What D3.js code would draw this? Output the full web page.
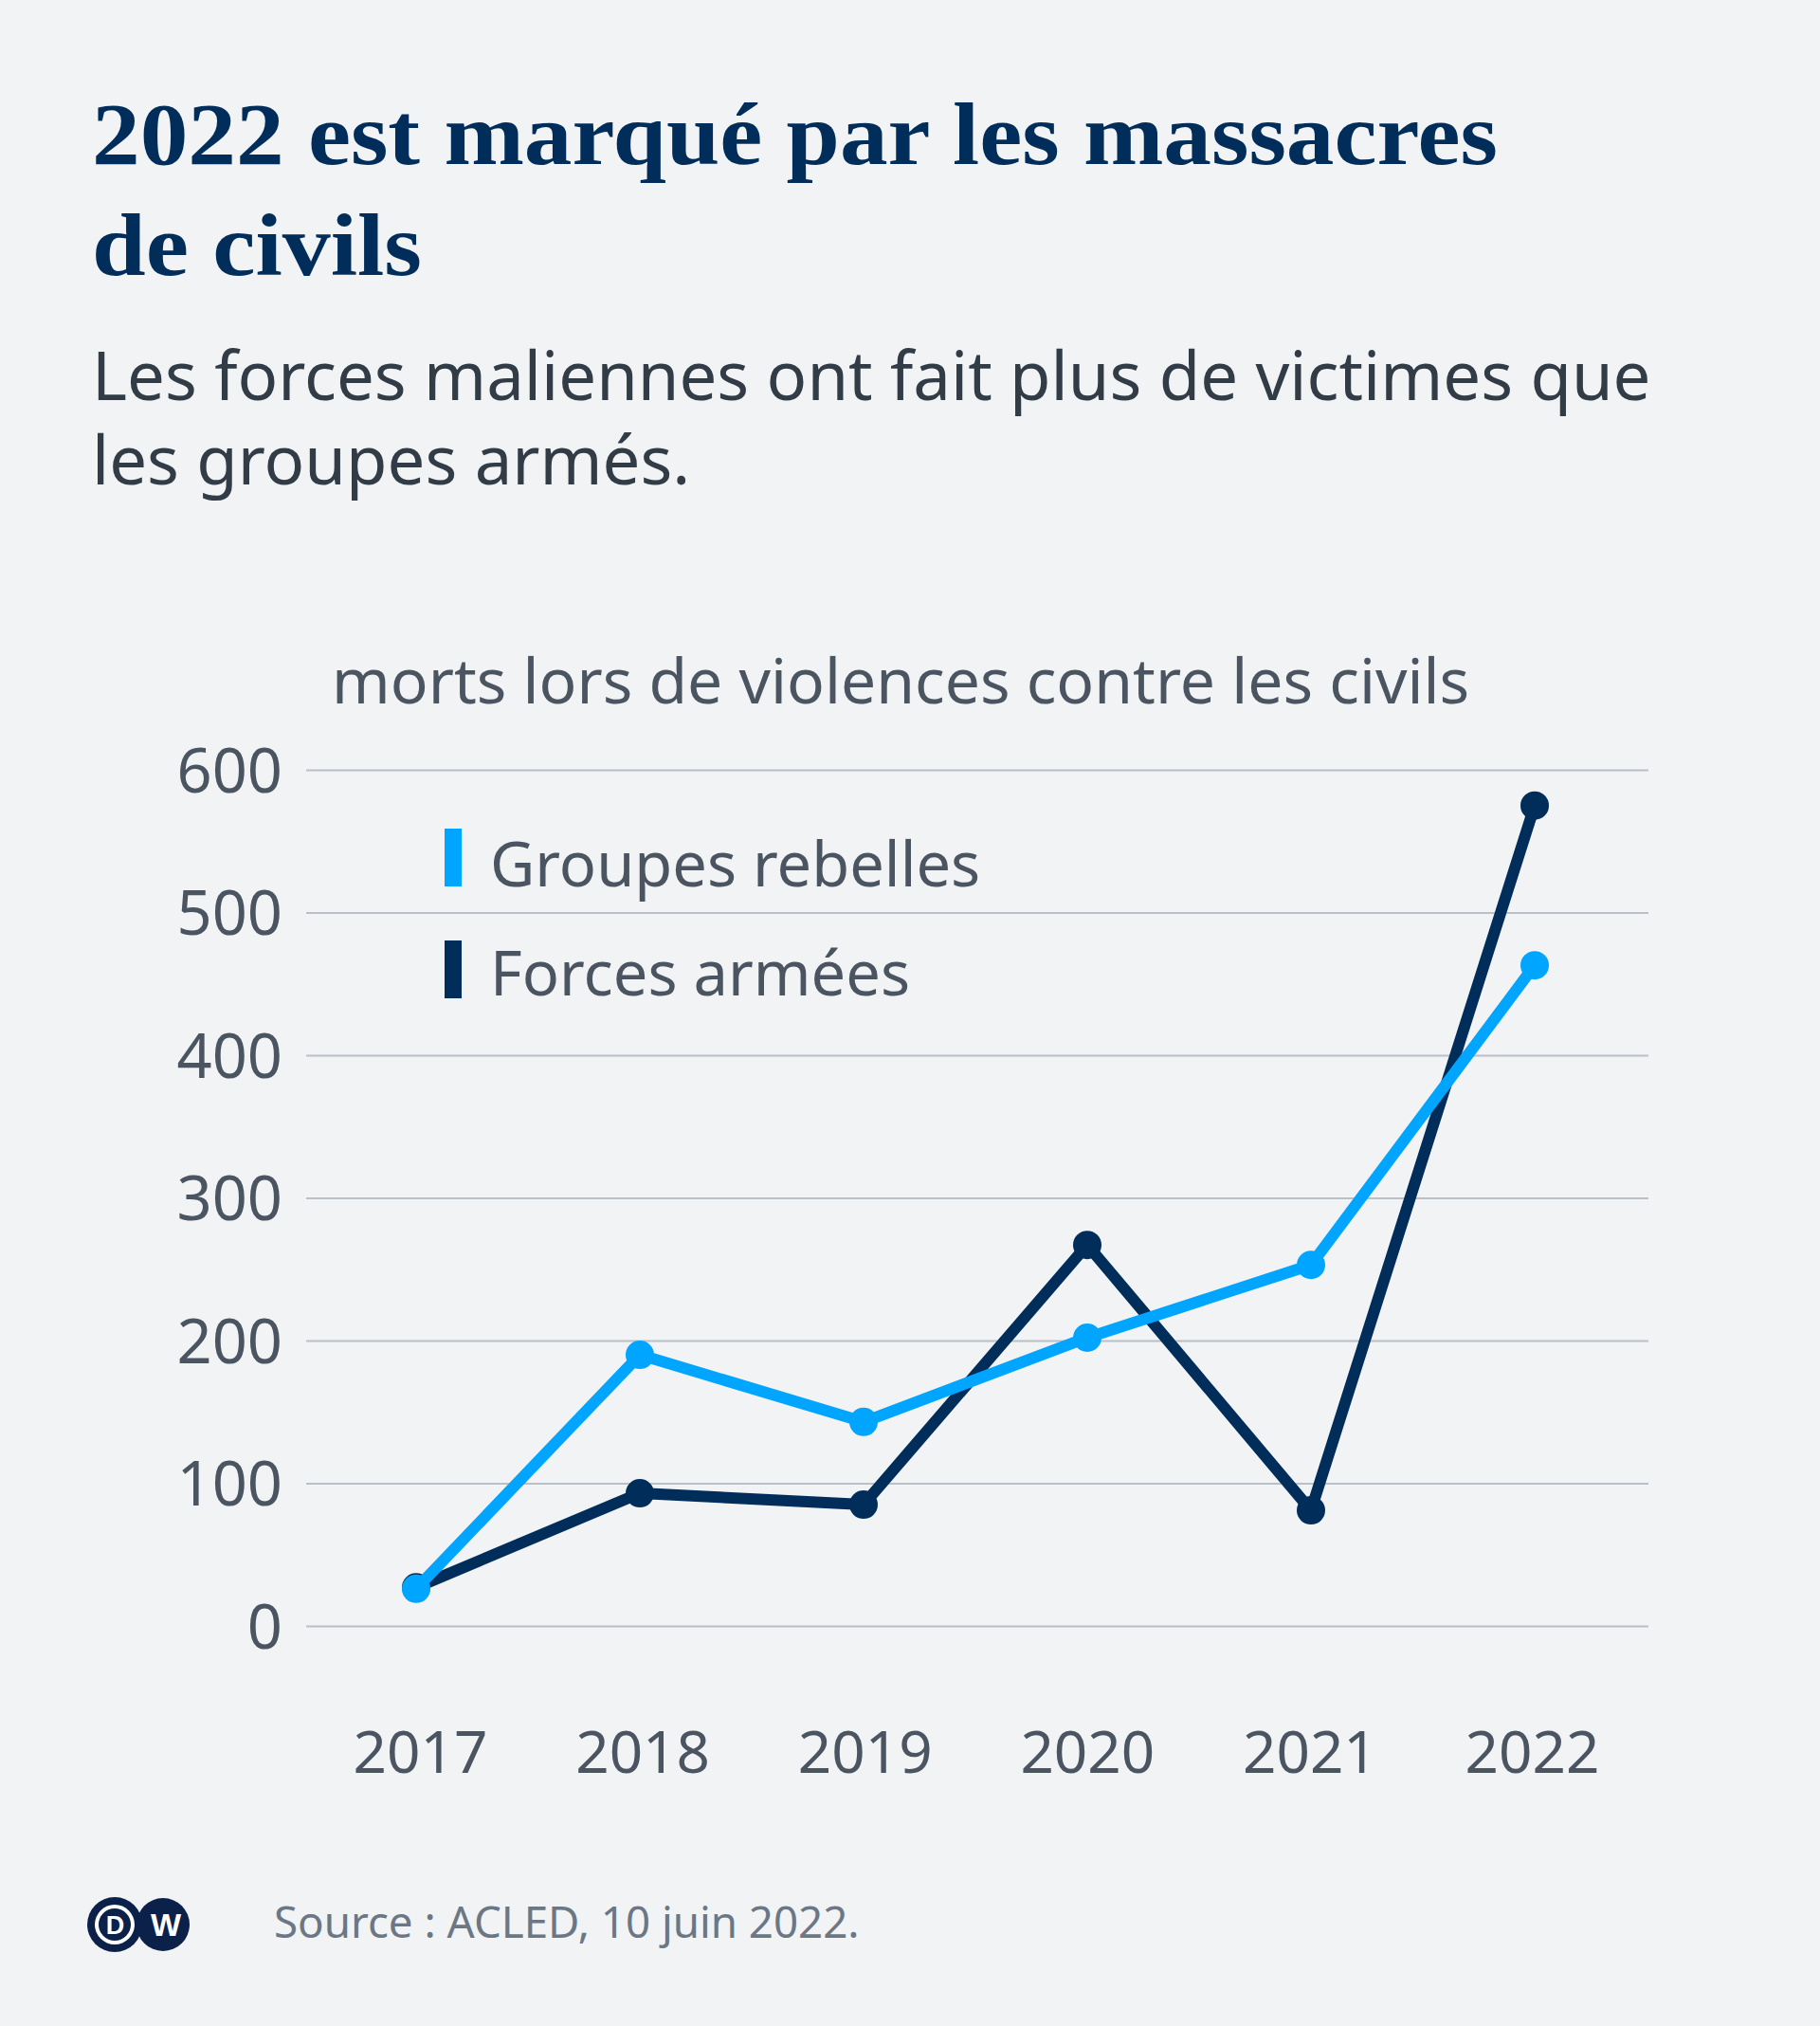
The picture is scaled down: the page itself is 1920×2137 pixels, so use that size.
<!DOCTYPE html>
<html>
<head>
<meta charset="utf-8">
<script src="https://cdn.jsdelivr.net/npm/d3@7"></script>
<style>
  html, body { margin: 0; padding: 0; background: #f1f3f5; }
  svg { display: block; }
</style>
</head>
<body>
<script>
const years = ["2017", "2018", "2019", "2020", "2021", "2022"];
const rebelles = [26, 190, 143, 202, 253, 463];
const forces = [27, 93, 85, 267, 81, 575];
const yTicks = [0, 100, 200, 300, 400, 500, 600];
const seriesNames = ["Groupes rebelles", "Forces armées"];
const titleLines = ["2022 est marqué par les massacres", "de civils"];
const subtitleLines = ["Les forces maliennes ont fait plus de victimes que", "les groupes armés."];
const axisTitle = "morts lors de violences contre les civils";
const sourceText = "Source : ACLED, 10 juin 2022.";

const W = 1920, H = 2137;
const navy = "#002d5a", blue = "#00a5ff";
const svg = d3.select("body").append("svg").attr("width", W).attr("height", H);
svg.append("rect").attr("width", W).attr("height", H).attr("fill", "#f1f3f5");

// Title
const titleWidths = [1483, 348];
svg.append("g").selectAll("text").data(titleLines).join("text")
  .attr("x", 97).attr("y", (d, i) => 173 + i * 117)
  .attr("font-family", "Liberation Serif, serif").attr("font-weight", "bold")
  .attr("font-size", 94).attr("fill", navy)
  .attr("textLength", (d, i) => titleWidths[i]).attr("lengthAdjust", "spacingAndGlyphs")
  .text(d => d);

// Subtitle
svg.append("g").selectAll("text").data(subtitleLines).join("text")
  .attr("x", 97).attr("y", (d, i) => 422 + i * 89)
  .attr("font-family", "Noto Sans, sans-serif")
  .attr("font-size", 70.7).attr("fill", "#323c46").text(d => d);

// Axis title
svg.append("text").attr("x", 350).attr("y", 742)
  .attr("font-family", "Noto Sans, sans-serif").attr("font-size", 66)
  .attr("fill", "#4b5561").text(axisTitle);

const x = d3.scalePoint().domain(years).range([439, 1619]);
const xLab = d3.scalePoint().domain(years).range([443, 1616]);
const y = d3.scaleLinear().domain([0, 600]).range([1715, 812]);

// Grid
const grid = d3.axisLeft(y).tickValues(yTicks).tickSize(-(1739 - 323)).tickFormat("");
svg.append("g").attr("transform", "translate(323,0)").call(grid)
  .call(g => g.select(".domain").remove())
  .call(g => g.selectAll("line").attr("stroke", "#b9c0c7").attr("stroke-width", 2));

// Y labels
const yAxis = d3.axisLeft(y).tickValues(yTicks).tickSize(0).tickPadding(0);
svg.append("g").attr("transform", "translate(298,0)").call(yAxis)
  .call(g => g.select(".domain").remove())
  .call(g => g.selectAll("text").attr("font-family", "Noto Sans, sans-serif")
    .attr("font-size", 65).attr("fill", "#4b5561").attr("dy", "0.36em"));

// X labels
const xAxis = d3.axisBottom(xLab).tickSize(0).tickPadding(0);
svg.append("g").attr("transform", "translate(0,1870)").call(xAxis)
  .call(g => g.select(".domain").remove())
  .call(g => g.selectAll("text").attr("font-family", "Noto Sans, sans-serif")
    .attr("font-size", 62).attr("fill", "#4b5561").attr("dy", 0));

// Lines
const line = d3.line().x((d, i) => x(years[i])).y(d => y(d));
const series = [{ vals: forces, color: navy }, { vals: rebelles, color: blue }];
series.forEach(s => {
  svg.append("path").datum(s.vals).attr("d", line).attr("fill", "none")
    .attr("stroke", s.color).attr("stroke-width", 12).attr("stroke-linejoin", "round");
  svg.append("g").selectAll("circle").data(s.vals).join("circle")
    .attr("cx", (d, i) => x(years[i])).attr("cy", d => y(d)).attr("r", 15).attr("fill", s.color);
});

// Legend
const legColors = [blue, navy];
const leg = svg.append("g");
seriesNames.forEach((n, i) => {
  leg.append("rect").attr("x", 469).attr("y", [874, 992][i]).attr("width", 18).attr("height", 61).attr("fill", legColors[i]);
  leg.append("text").attr("x", 517).attr("y", [935, 1050][i])
    .attr("font-family", "Noto Sans, sans-serif").attr("font-size", 65)
    .attr("fill", "#4b5561").text(n);
});

// Source
svg.append("text").attr("x", 289).attr("y", 2044)
  .attr("font-family", "Noto Sans, sans-serif").attr("font-size", 45.7)
  .attr("fill", "#6b7784").text(sourceText);

// DW logo
const logo = svg.append("g");
logo.append("circle").attr("cx", 172).attr("cy", 2030).attr("r", 28).attr("fill", "#0b2149");
logo.append("circle").attr("cx", 121).attr("cy", 2030).attr("r", 29).attr("fill", "#0b2149");
logo.append("circle").attr("cx", 121).attr("cy", 2030).attr("r", 21).attr("fill", "#ffffff");
logo.append("circle").attr("cx", 121).attr("cy", 2030).attr("r", 17).attr("fill", "#0b2149");
logo.append("text").attr("x", 121.5).attr("y", 2030).attr("dy", "0.36em").attr("text-anchor", "middle")
  .attr("font-family", "Liberation Sans, sans-serif").attr("font-weight", "bold").attr("font-size", 27)
  .attr("fill", "#ffffff").text("D");
logo.append("text").attr("x", 175).attr("y", 2030).attr("dy", "0.36em").attr("text-anchor", "middle")
  .attr("font-family", "Liberation Sans, sans-serif").attr("font-weight", "bold").attr("font-size", 34)
  .attr("fill", "#ffffff").text("W");
</script>
</body>
</html>
